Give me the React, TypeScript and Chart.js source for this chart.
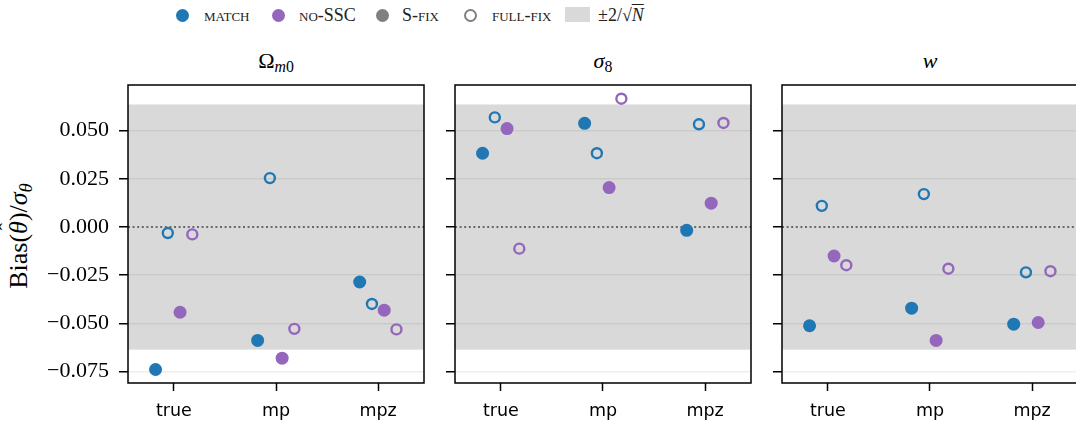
import React, { useEffect, useRef } from 'react';
import { Chart, registerables } from 'chart.js';

Chart.register(...registerables);

// ---------------- data ----------------
const CATEGORIES = ['true', 'mp', 'mpz'];
const Y_TICKS = [-0.075, -0.05, -0.025, 0, 0.025, 0.05];
const BAND_HALF = 0.0636; // ±2/sqrt(N)

const OMEGA_MATCH_SFIX = [-0.0739, -0.0588, -0.0285];
const OMEGA_MATCH_FULLFIX = [-0.0031, 0.0254, -0.0399];
const OMEGA_NOSSC_SFIX = [-0.0442, -0.068, -0.0431];
const OMEGA_NOSSC_FULLFIX = [-0.0038, -0.0528, -0.0531];

const SIGMA8_MATCH_SFIX = [0.0383, 0.0538, -0.0017];
const SIGMA8_MATCH_FULLFIX = [0.0569, 0.0383, 0.0533];
const SIGMA8_NOSSC_SFIX = [0.0511, 0.0205, 0.0124];
const SIGMA8_NOSSC_FULLFIX = [-0.0112, 0.0666, 0.054];

const W_MATCH_SFIX = [-0.0512, -0.0421, -0.0504];
const W_MATCH_FULLFIX = [0.011, 0.0171, -0.0235];
const W_NOSSC_SFIX = [-0.015, -0.0588, -0.0495];
const W_NOSSC_FULLFIX = [-0.0198, -0.0216, -0.0229];

// ---------------- style / layout ----------------
const BLUE = '#1f77b4';
const PURPLE = '#9467bd';
const BAND_COLOR = '#d9d9d9';
const DODGE = [-0.18, -0.06, 0.06, 0.18];
const X_MIN = -0.45;
const X_MAX = 2.45;
const Y_MIN = -0.0809;
const Y_MAX = 0.0737;

const PANEL_TOP = 85;
const PANEL_BOTTOM = 383;
const PANEL_WIDTH = 296;
const PANEL_LEFTS = [128, 455, 782];
const CANVAS_TOP = PANEL_TOP - 2;
const CANVAS_H = 428 - CANVAS_TOP;
const XH = CANVAS_H - 2 - (PANEL_BOTTOM - PANEL_TOP);

const SERIF = '"Liberation Serif", "DejaVu Serif", serif';

const fmt = (v: number) => {
  const s = Math.abs(v).toFixed(3);
  return v < -1e-9 ? '\u2212' + s : s;
};

const decor = {
  id: 'decor',
  beforeDraw(chart: any) {
    const { ctx, chartArea: a, scales } = chart;
    const y = scales.y;
    const t = y.getPixelForValue(BAND_HALF);
    const b = y.getPixelForValue(-BAND_HALF);
    ctx.save();
    ctx.fillStyle = BAND_COLOR;
    ctx.fillRect(a.left, t, a.right - a.left, b - t);
    ctx.restore();
  },
  beforeDatasetsDraw(chart: any) {
    const { ctx, chartArea: a, scales } = chart;
    const y0 = scales.y.getPixelForValue(0);
    ctx.save();
    ctx.beginPath();
    ctx.setLineDash([2, 2.6]);
    ctx.lineWidth = 1.6;
    ctx.strokeStyle = '#444444';
    ctx.moveTo(a.left, y0);
    ctx.lineTo(a.right, y0);
    ctx.stroke();
    ctx.restore();
  },
  afterDraw(chart: any) {
    const { ctx, chartArea: a } = chart;
    ctx.save();
    ctx.lineWidth = 1.5;
    ctx.strokeStyle = '#000';
    ctx.strokeRect(a.left, a.top, a.right - a.left, a.bottom - a.top);
    ctx.restore();
  },
};

type PanelProps = {
  index: number;
  matchS: number[];
  matchF: number[];
  nosscS: number[];
  nosscF: number[];
};

function Panel({ index, matchS, matchF, nosscS, nosscF }: PanelProps) {
  const ref = useRef<HTMLCanvasElement | null>(null);
  const yw = index === 0 ? PANEL_LEFTS[0] : 24;
  const left = PANEL_LEFTS[index] - yw;
  const width = yw + PANEL_WIDTH + 2;
  const showLabels = index === 0;

  useEffect(() => {
    if (!ref.current) return;
    const pts = (vals: number[], k: number) =>
      CATEGORIES.map((_, i) => ({ x: i + DODGE[k], y: vals[i] }));
    const filled = (vals: number[], k: number, color: string) => ({
      data: pts(vals, k),
      pointRadius: 6.5,
      pointHoverRadius: 6.5,
      backgroundColor: color,
      borderColor: color,
      borderWidth: 0,
      showLine: false,
    });
    const open = (vals: number[], k: number, color: string) => ({
      data: pts(vals, k),
      pointRadius: 5,
      pointHoverRadius: 5,
      backgroundColor: 'rgba(0,0,0,0)',
      borderColor: color,
      borderWidth: 2.4,
      showLine: false,
    });
    const chart = new Chart(ref.current, {
      type: 'scatter',
      data: {
        datasets: [
          { label: 'match s-fix', ...filled(matchS, 0, BLUE) },
          { label: 'match full-fix', ...open(matchF, 1, BLUE) },
          { label: 'no-SSC s-fix', ...filled(nosscS, 2, PURPLE) },
          { label: 'no-SSC full-fix', ...open(nosscF, 3, PURPLE) },
        ] as any,
      },
      options: {
        animation: false,
        responsive: false,
        devicePixelRatio: 1,
        events: [],
        layout: { autoPadding: false, padding: { top: 2, right: 2, left: 0, bottom: 0 } },
        plugins: { legend: { display: false }, tooltip: { enabled: false }, title: { display: false } },
        scales: {
          x: {
            type: 'linear',
            min: X_MIN,
            max: X_MAX,
            afterBuildTicks: (s: any) => {
              s.ticks = CATEGORIES.map((_, i) => ({ value: i }));
            },
            afterFit: (s: any) => {
              s.height = XH;
              s.paddingLeft = 0;
              s.paddingRight = 0;
            },
            ticks: {
              autoSkip: false,
              maxRotation: 0,
              padding: 10,
              color: '#000',
              font: { family: '"DejaVu Sans", sans-serif', size: 17.5 },
              callback: (v: any) => CATEGORIES[Math.round(Number(v))] ?? '',
            },
            grid: {
              drawOnChartArea: false,
              drawTicks: true,
              tickLength: 8,
              tickWidth: 1.5,
              tickColor: '#000',
            },
            border: { display: false },
          },
          y: {
            type: 'linear',
            min: Y_MIN,
            max: Y_MAX,
            afterBuildTicks: (s: any) => {
              s.ticks = Y_TICKS.map((v) => ({ value: v }));
            },
            afterFit: (s: any) => {
              s.width = yw;
              s.paddingTop = 0;
              s.paddingBottom = 0;
            },
            ticks: {
              padding: 10,
              color: '#000',
              font: { family: SERIF, size: 22 },
              callback: (v: any) => (showLabels ? fmt(Number(v)) : ''),
            },
            grid: {
              color: (c: any) =>
                c.tick && Math.abs(c.tick.value) < 1e-9 ? 'rgba(0,0,0,0)' : 'rgba(0,0,0,0.065)',
              lineWidth: 1.5,
              drawTicks: true,
              tickLength: 9,
              tickWidth: 1.5,
              tickColor: '#000',
            },
            border: { display: false },
          },
        },
      } as any,
      plugins: [decor],
    });
    return () => chart.destroy();
  }, []);

  return (
    <canvas
      ref={ref}
      width={width}
      height={CANVAS_H}
      style={{ position: 'absolute', left, top: CANVAS_TOP, width, height: CANVAS_H }}
    />
  );
}

const sub: React.CSSProperties = { fontSize: '72%', position: 'relative', top: '0.28em' };

function Title({ index, children }: { index: number; children: React.ReactNode }) {
  const cx = PANEL_LEFTS[index] + PANEL_WIDTH / 2;
  return (
    <div
      style={{
        position: 'absolute',
        left: cx,
        top: 50,
        transform: 'translateX(-50%)',
        fontFamily: SERIF,
        fontSize: 22,
        lineHeight: 1,
        whiteSpace: 'nowrap',
        color: '#000',
      }}
    >
      {children}
    </div>
  );
}

const legendText: React.CSSProperties = {
  position: 'absolute',
  top: 15,
  transform: 'translateY(-50%)',
  fontFamily: SERIF,
  fontSize: 18,
  lineHeight: 1,
  whiteSpace: 'nowrap',
  color: '#222',
};

function Dot({ cx, color, open }: { cx: number; color: string; open?: boolean }) {
  return (
    <div
      style={{
        position: 'absolute',
        left: cx - 6.5,
        top: 15 - 6.5,
        width: 13,
        height: 13,
        borderRadius: '50%',
        boxSizing: 'border-box',
        background: open ? 'transparent' : color,
        border: open ? `2.4px solid ${color}` : 'none',
      }}
    />
  );
}

function Legend() {
  return (
    <>
      <Dot cx={182} color={BLUE} />
      <div style={{ ...legendText, left: 204, fontVariant: 'small-caps' }}>match</div>
      <Dot cx={278} color={PURPLE} />
      <div style={{ ...legendText, left: 299, fontVariant: 'small-caps' }}>no-SSC</div>
      <Dot cx={382} color="#808080" />
      <div style={{ ...legendText, left: 402, fontVariant: 'small-caps' }}>S-fix</div>
      <Dot cx={470} color="#808080" open />
      <div style={{ ...legendText, left: 492, fontVariant: 'small-caps' }}>full-fix</div>
      <div
        style={{ position: 'absolute', left: 565, top: 7, width: 25, height: 15, background: BAND_COLOR }}
      />
      <div style={{ ...legendText, left: 598 }}>
        ±2/√<i style={{ textDecoration: 'overline' }}>N</i>
      </div>
    </>
  );
}

export default function App() {
  return (
    <div
      style={{
        position: 'fixed',
        left: 0,
        top: 0,
        width: 1076,
        height: 428,
        overflow: 'hidden',
        background: '#fff',
      }}
    >
      <Legend />
      <Title index={0}>
        Ω<span style={sub}><i>m</i>0</span>
      </Title>
      <Title index={1}>
        <i>σ</i><span style={sub}>8</span>
      </Title>
      <Title index={2}>
        <i>w</i>
      </Title>
      <div
        style={{
          position: 'absolute',
          left: 19,
          top: 236,
          transform: 'translate(-50%, -50%) rotate(-90deg)',
          fontFamily: SERIF,
          fontSize: 26,
          lineHeight: 1,
          whiteSpace: 'nowrap',
          color: '#000',
        }}
      >
        Bias(
        <span style={{ position: 'relative', display: 'inline-block' }}>
          <i>θ</i>
          <span
            style={{
              position: 'absolute',
              left: '55%',
              top: '-0.42em',
              transform: 'translateX(-50%)',
              fontSize: '85%',
            }}
          >
            ˆ
          </span>
        </span>
        )/<i>σ</i>
        <span style={sub}>
          <i>θ</i>
        </span>
      </div>
      <Panel index={0} matchS={OMEGA_MATCH_SFIX} matchF={OMEGA_MATCH_FULLFIX} nosscS={OMEGA_NOSSC_SFIX} nosscF={OMEGA_NOSSC_FULLFIX} />
      <Panel index={1} matchS={SIGMA8_MATCH_SFIX} matchF={SIGMA8_MATCH_FULLFIX} nosscS={SIGMA8_NOSSC_SFIX} nosscF={SIGMA8_NOSSC_FULLFIX} />
      <Panel index={2} matchS={W_MATCH_SFIX} matchF={W_MATCH_FULLFIX} nosscS={W_NOSSC_SFIX} nosscF={W_NOSSC_FULLFIX} />
    </div>
  );
}
